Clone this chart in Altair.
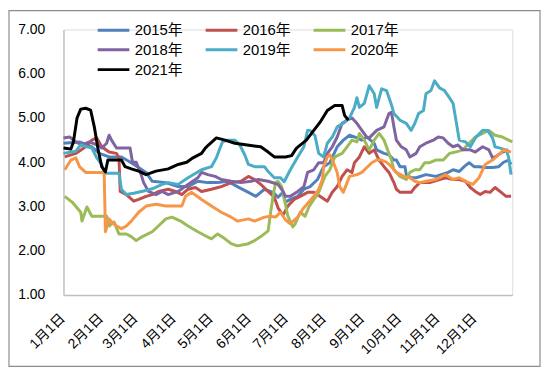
import json
import altair as alt
import pandas as pd

# ---------------- data (day of year -> value) ----------------
days_2015 = [0, 13, 23, 29, 37, 47, 55, 67, 72, 83, 93, 101, 109, 117, 125, 133, 141, 150, 156, 163, 170, 174, 178, 180, 184, 190, 195, 200, 206, 211, 216, 222, 227, 232, 238, 242, 246, 252, 254, 260, 264, 268, 270, 273, 277, 278, 282, 286, 294, 302, 312, 316, 321, 325, 329, 333, 337, 342, 348, 353, 357, 361, 363]
vals_2015 = [4.43, 4.46, 4.35, 4.2, 4.12, 4.12, 3.99, 3.77, 3.57, 3.54, 3.45, 3.45, 3.57, 3.54, 3.54, 3.57, 3.45, 3.32, 3.23, 3.39, 3.32, 3.21, 3.32, 3.1, 3.16, 3.23, 3.39, 3.45, 3.61, 3.9, 3.99, 4.35, 4.5, 4.61, 4.55, 4.5, 4.57, 4.43, 4.28, 4.2, 4.17, 4.05, 4.05, 3.9, 3.9, 3.72, 3.65, 3.65, 3.72, 3.68, 3.77, 3.83, 3.79, 3.9, 3.99, 3.9, 3.9, 3.88, 3.88, 3.9, 4.0, 4.05, 3.95]

days_2016 = [1, 10, 18, 23, 27, 31, 37, 43, 45, 46, 51, 57, 61, 67, 72, 77, 85, 91, 96, 101, 107, 112, 120, 128, 136, 144, 150, 155, 160, 166, 171, 174, 178, 182, 187, 192, 198, 203, 208, 214, 218, 222, 226, 230, 234, 236, 240, 244, 248, 252, 256, 260, 264, 268, 270, 273, 282, 285, 289, 297, 305, 310, 316, 321, 326, 330, 334, 338, 342, 346, 350, 354, 359, 363]
vals_2016 = [4.12, 4.2, 4.35, 4.5, 4.55, 4.35, 4.23, 4.2, 4.1, 3.34, 3.27, 3.12, 3.16, 3.23, 3.27, 3.34, 3.39, 3.34, 3.27, 3.39, 3.43, 3.34, 3.39, 3.45, 3.54, 3.57, 3.68, 3.61, 3.5, 3.34, 3.21, 2.97, 2.8, 3.01, 3.16, 3.23, 3.32, 3.32, 3.23, 3.12, 3.32, 3.45, 3.68, 3.83, 3.77, 3.99, 4.12, 4.35, 4.2, 4.28, 4.05, 3.9, 3.77, 3.54, 3.39, 3.32, 3.32, 3.43, 3.54, 3.54, 3.61, 3.65, 3.61, 3.61, 3.57, 3.43, 3.34, 3.27, 3.34, 3.32, 3.43, 3.34, 3.23, 3.23]

days_2017 = [1, 7, 14, 15, 19, 23, 29, 35, 37, 41, 45, 51, 55, 59, 64, 72, 77, 83, 88, 95, 101, 109, 115, 120, 125, 131, 136, 141, 150, 155, 160, 166, 168, 170, 172, 174, 177, 180, 182, 186, 188, 192, 196, 199, 203, 206, 208, 212, 216, 220, 226, 230, 234, 238, 240, 244, 248, 252, 256, 260, 264, 266, 268, 273, 278, 281, 285, 289, 293, 297, 302, 308, 313, 318, 324, 329, 334, 340, 345, 350, 356, 361, 364]
vals_2017 = [3.23, 3.1, 2.87, 2.67, 2.99, 2.78, 2.78, 2.78, 2.56, 2.65, 2.38, 2.38, 2.32, 2.23, 2.32, 2.43, 2.56, 2.72, 2.76, 2.67, 2.56, 2.43, 2.34, 2.27, 2.38, 2.27, 2.16, 2.11, 2.16, 2.23, 2.32, 2.45, 2.87, 3.23, 3.54, 3.57, 3.45, 3.05, 2.78, 2.54, 2.61, 2.87, 2.78, 2.99, 3.16, 3.27, 3.39, 3.68, 3.83, 4.12, 4.2, 4.35, 4.5, 4.46, 4.65, 4.5, 4.28, 4.5, 4.65, 4.5, 4.2, 4.05, 3.83, 3.68, 3.61, 3.77, 3.83, 3.83, 3.99, 3.99, 4.05, 4.05, 4.2, 4.23, 4.28, 4.43, 4.57, 4.65, 4.72, 4.61, 4.57, 4.5, 4.46]

days_2018 = [0, 5, 10, 15, 21, 27, 31, 35, 37, 39, 43, 54, 56, 59, 63, 65, 69, 75, 80, 85, 93, 101, 109, 112, 117, 123, 128, 136, 144, 152, 158, 166, 174, 178, 180, 184, 190, 195, 198, 203, 207, 211, 214, 218, 222, 226, 230, 234, 238, 242, 246, 248, 254, 260, 264, 266, 268, 270, 274, 278, 281, 286, 289, 294, 300, 304, 308, 312, 316, 320, 324, 330, 334, 340, 345, 348, 350, 356, 361]
vals_2018 = [4.55, 4.57, 4.46, 4.39, 4.46, 4.39, 4.32, 4.43, 4.61, 4.5, 4.32, 4.32, 4.0, 4.0, 3.72, 3.54, 3.34, 3.27, 3.34, 3.27, 3.34, 3.5, 3.65, 3.77, 3.72, 3.68, 3.61, 3.57, 3.54, 3.57, 3.61, 3.57, 3.5, 3.35, 3.23, 3.23, 3.34, 3.45, 3.77, 3.83, 3.99, 3.99, 4.2, 4.35, 4.57, 4.88, 4.95, 5.0, 4.88, 4.72, 4.57, 4.55, 4.72, 4.8, 5.1, 5.13, 4.8, 4.5, 4.35, 4.28, 4.12, 4.2, 4.35, 4.43, 4.5, 4.57, 4.55, 4.43, 4.35, 4.39, 4.28, 4.28, 4.23, 4.35, 4.28, 4.1, 4.12, 4.23, 4.28]

days_2019 = [0, 10, 14, 23, 27, 31, 33, 35, 45, 47, 51, 57, 65, 72, 80, 85, 93, 101, 112, 120, 124, 127, 129, 133, 139, 143, 147, 150, 155, 163, 166, 171, 176, 179, 184, 190, 195, 198, 200, 204, 207, 211, 214, 218, 222, 227, 232, 236, 238, 240, 244, 248, 252, 254, 258, 262, 266, 268, 273, 278, 282, 285, 288, 292, 294, 298, 301, 305, 309, 313, 316, 318, 321, 326, 330, 334, 340, 344, 348, 350, 354, 359, 361, 363]
vals_2019 = [4.2, 4.25, 4.39, 4.32, 4.1, 3.95, 3.79, 3.75, 3.75, 3.39, 3.27, 3.3, 3.35, 3.4, 3.5, 3.54, 3.5, 3.65, 3.83, 3.9, 4.1, 4.32, 4.46, 4.5, 4.5, 4.39, 4.17, 3.95, 3.9, 3.9, 3.79, 3.65, 3.65, 3.56, 3.83, 4.12, 4.35, 4.72, 4.72, 4.6, 4.2, 4.12, 4.43, 4.57, 4.8, 4.88, 5.0, 5.24, 5.46, 5.24, 5.33, 5.73, 5.55, 5.24, 5.66, 5.62, 5.3, 5.1, 4.95, 4.88, 4.72, 4.88, 5.1, 5.17, 5.55, 5.62, 5.84, 5.68, 5.62, 5.46, 5.33, 5.0, 4.5, 4.46, 4.35, 4.55, 4.72, 4.72, 4.55, 4.35, 4.32, 4.28, 4.12, 3.72]

days_2020 = [1, 6, 10, 13, 18, 33, 34, 37, 39, 43, 47, 51, 55, 61, 67, 75, 83, 96, 99, 104, 112, 120, 128, 136, 141, 150, 155, 163, 168, 172, 176, 180, 184, 190, 194, 199, 203, 207, 210, 211, 214, 216, 219, 222, 224, 227, 230, 232, 238, 242, 246, 250, 254, 258, 262, 266, 270, 276, 281, 285, 289, 294, 302, 310, 316, 321, 326, 332, 337, 340, 342, 348, 353, 357, 363]
vals_2020 = [3.83, 4.05, 4.1, 3.9, 3.77, 3.77, 2.43, 2.72, 2.65, 2.56, 2.5, 2.56, 2.67, 2.87, 3.01, 3.05, 3.01, 3.01, 3.23, 3.32, 3.16, 3.01, 2.87, 2.76, 2.67, 2.72, 2.67, 2.76, 2.78, 2.76, 2.87, 2.7, 2.61, 2.76, 2.94, 3.1, 3.23, 3.39, 3.61, 3.9, 4.12, 4.17, 3.99, 3.77, 3.45, 3.32, 3.54, 3.68, 3.72, 3.77, 3.88, 3.99, 4.05, 4.05, 4.0, 3.9, 3.77, 3.68, 3.65, 3.57, 3.54, 3.57, 3.61, 3.72, 3.61, 3.65, 3.57, 3.5, 3.65, 3.83, 3.95, 4.05, 4.17, 4.28, 4.23]

days_2021 = [0, 6, 8, 11, 14, 18, 22, 25, 28, 31, 34, 36, 47, 50, 55, 61, 67, 75, 85, 93, 100, 105, 112, 115, 118, 124, 131, 139, 149, 160, 166, 171, 180, 185, 189, 197, 203, 208, 214, 220, 226, 228, 231]
vals_2021 = [4.32, 4.3, 4.45, 5.0, 5.2, 5.22, 5.18, 4.8, 4.3, 3.9, 3.78, 4.05, 4.05, 3.9, 3.85, 3.8, 3.72, 3.8, 3.85, 3.95, 4.0, 4.1, 4.2, 4.32, 4.4, 4.55, 4.5, 4.43, 4.39, 4.35, 4.23, 4.12, 4.12, 4.15, 4.32, 4.5, 4.72, 4.9, 5.17, 5.28, 5.28, 5.06, 4.95]

series_names = ["2015年", "2016年", "2017年", "2018年", "2019年", "2020年", "2021年"]
series_colors = ["#4F81BD", "#C0504D", "#9BBB59", "#8064A2", "#4BACC6", "#F79646", "#000000"]
series_days = [days_2015, days_2016, days_2017, days_2018, days_2019, days_2020, days_2021]
series_vals = [vals_2015, vals_2016, vals_2017, vals_2018, vals_2019, vals_2020, vals_2021]

month_days = [0, 31, 59, 90, 120, 151, 181, 212, 243, 273, 304, 334]
month_labels = ["1月1日", "2月1日", "3月1日", "4月1日", "5月1日", "6月1日",
                "7月1日", "8月1日", "9月1日", "10月1日", "11月1日", "12月1日"]
y_ticks = [1, 2, 3, 4, 5, 6, 7]

rows = []
for name, ds, vs in zip(series_names, series_days, series_vals):
    for d, v in zip(ds, vs):
        rows.append({"series": name, "day": d, "value": v})
df = pd.DataFrame(rows)

FONT = "Liberation Sans, Noto Sans CJK SC, sans-serif"

label_expr = (json.dumps(month_labels, ensure_ascii=False)
              + "[indexof(" + json.dumps(month_days) + ", datum.value)]")

lines = alt.Chart(df).mark_line(strokeWidth=3, strokeJoin="round").encode(
    x=alt.X("day:Q",
            scale=alt.Scale(domain=[0, 364], nice=False, zero=False),
            axis=alt.Axis(values=month_days, labelExpr=label_expr, labelAngle=-45,
                          labelAlign="right", labelBaseline="middle",
                          labelPadding=21, labelOffset=-1, ticks=False, tickSize=0,
                          grid=False, domainColor="#BFBFBF", domainWidth=1.3,
                          labelFont=FONT, labelFontSize=14, labelColor="#000000",
                          title=None, labelOverlap=False)),
    y=alt.Y("value:Q",
            scale=alt.Scale(domain=[1, 7], nice=False, zero=False),
            axis=alt.Axis(values=y_ticks, format=".2f", ticks=False, tickSize=0,
                          grid=False, labelPadding=19,
                          domainColor="#BFBFBF", domainWidth=1.3,
                          labelFont=FONT, labelFontSize=14, labelColor="#000000",
                          title=None)),
    color=alt.Color("series:N",
                    scale=alt.Scale(domain=series_names, range=series_colors),
                    legend=alt.Legend(title=None, orient="none", legendX=33, legendY=-11,
                                      direction="horizontal",
                                      columns=3, columnPadding=16, rowPadding=0,
                                      symbolType="M-1,0H2.2", symbolSize=400,
                                      symbolStrokeWidth=3, labelOffset=16,
                                      labelFont=FONT, labelFontSize=15,
                                      labelColor="#000000", padding=0)),
    order=alt.Order("day:Q"),
)

frame = alt.Chart(pd.DataFrame({"k": [0]})).mark_rect(
    fill="transparent", stroke="#8C8C8C", strokeWidth=1.2
).encode(x=alt.value(-55), x2=alt.value(481), y=alt.value(-19), y2=alt.value(340))

chart = alt.layer(frame, lines).properties(
    width=453, height=268,
    padding={"left": 56, "top": 20, "right": 30, "bottom": 74},
    autosize="none",
).configure_view(stroke=None).configure(background="white")

chart.save("out.html", embed_options={"renderer": "svg", "actions": False})
